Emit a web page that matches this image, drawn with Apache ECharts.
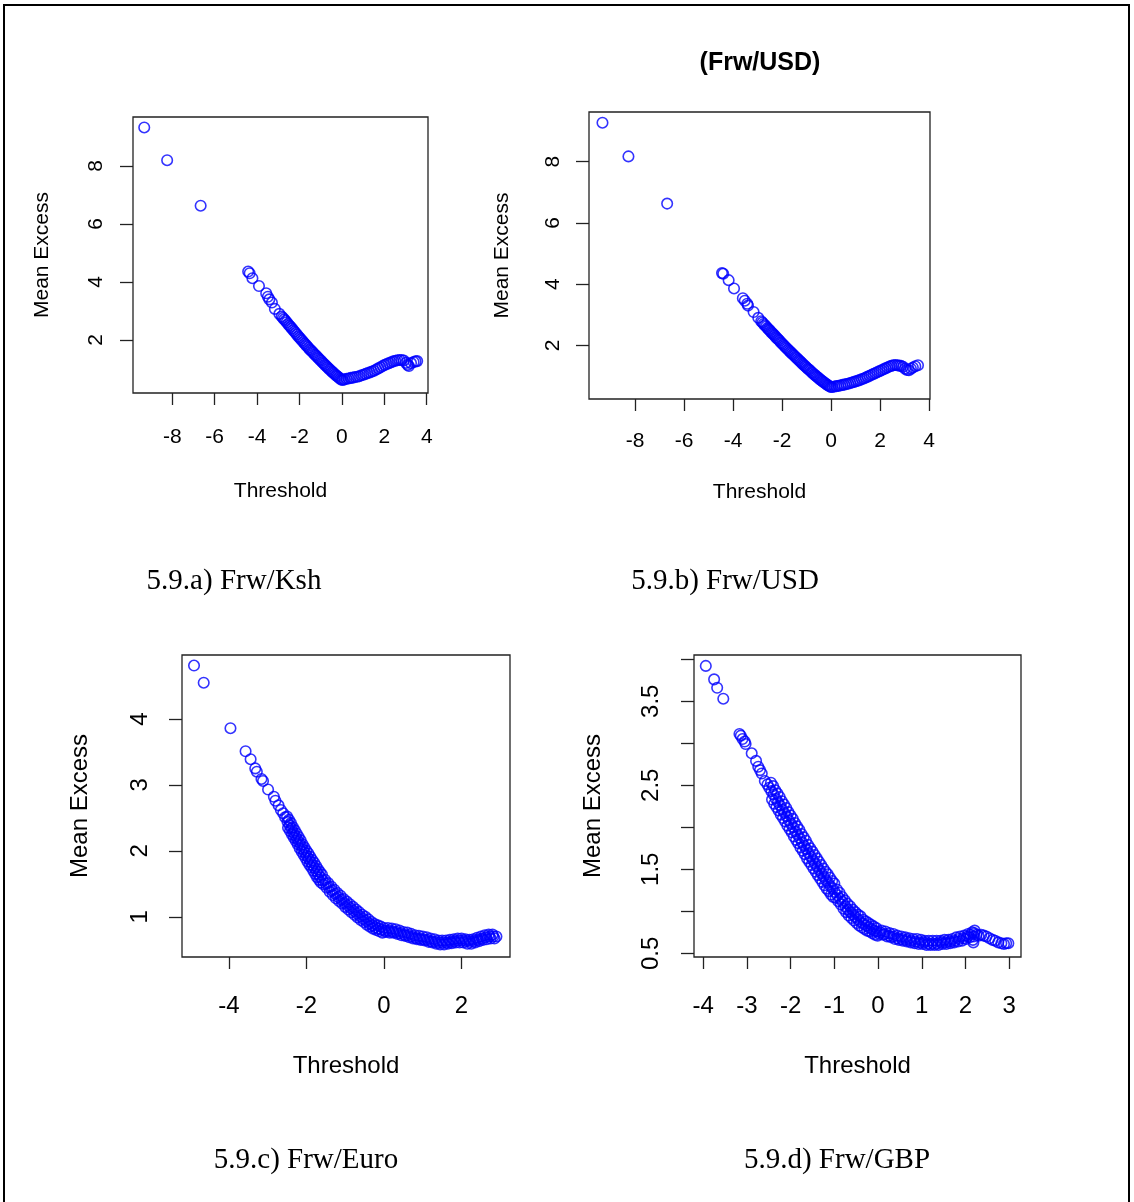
<!DOCTYPE html>
<html>
<head>
<meta charset="utf-8">
<title>Mean excess plots</title>
<script src="https://cdn.jsdelivr.net/npm/echarts@6/dist/echarts.min.js"></script>
<style>
  html, body { margin: 0; padding: 0; background: #fff; }
  #chart { width: 1134px; height: 1202px; }
</style>
</head>
<body>
<div id="chart"></div>
<script>
// [threshold, mean excess]
const frwKsh = [
  [-9.32, 9.33], [-8.24, 8.20], [-6.66, 6.63], [-4.42, 4.36], [-4.35, 4.30], [-4.22, 4.13], [-3.91, 3.86],
  [-3.57, 3.61], [-3.49, 3.49], [-3.42, 3.40], [-3.30, 3.29], [-3.16, 3.07], [-2.95, 2.90],
  [-2.84, 2.81], [-2.78, 2.76], [-2.72, 2.71], [-2.66, 2.66], [-2.60, 2.61], [-2.54, 2.55], [-2.48, 2.50],
  [-2.42, 2.45], [-2.36, 2.40], [-2.30, 2.34], [-2.24, 2.29], [-2.18, 2.24], [-2.12, 2.19], [-2.06, 2.13],
  [-2.00, 2.08], [-1.94, 2.03], [-1.88, 1.98], [-1.82, 1.93], [-1.76, 1.88], [-1.70, 1.83], [-1.64, 1.78],
  [-1.58, 1.73], [-1.52, 1.68], [-1.46, 1.64], [-1.40, 1.59], [-1.34, 1.55], [-1.28, 1.50], [-1.22, 1.46],
  [-1.16, 1.41], [-1.10, 1.37], [-1.04, 1.32], [-0.98, 1.28], [-0.92, 1.23], [-0.86, 1.19], [-0.80, 1.14],
  [-0.74, 1.10], [-0.68, 1.06], [-0.62, 1.01], [-0.56, 0.97], [-0.50, 0.93], [-0.44, 0.89], [-0.38, 0.85],
  [-0.32, 0.81], [-0.26, 0.77], [-0.20, 0.74], [-0.14, 0.70], [-0.08, 0.66], [-0.02, 0.63],
  [0.04, 0.62], [0.12, 0.64], [0.22, 0.66], [0.32, 0.67], [0.42, 0.69], [0.52, 0.70], [0.62, 0.72],
  [0.72, 0.73], [0.82, 0.75], [0.92, 0.78], [1.02, 0.80], [1.12, 0.83], [1.22, 0.86], [1.32, 0.88],
  [1.42, 0.91], [1.52, 0.94], [1.62, 0.98], [1.72, 1.02], [1.82, 1.06], [1.92, 1.10], [2.02, 1.14],
  [2.12, 1.17], [2.22, 1.20], [2.32, 1.23], [2.42, 1.26], [2.52, 1.28], [2.62, 1.30], [2.72, 1.31],
  [2.82, 1.31], [2.92, 1.29], [3.02, 1.21], [3.10, 1.14], [3.16, 1.10], [3.26, 1.20], [3.38, 1.24],
  [3.47, 1.26], [3.55, 1.27]
];

const frwUsd = [
  [-9.33, 9.27], [-8.27, 8.17], [-6.69, 6.63], [-4.45, 4.36], [-4.40, 4.34], [-4.18, 4.13], [-3.96, 3.86],
  [-3.60, 3.54], [-3.52, 3.46], [-3.42, 3.36], [-3.39, 3.30], [-3.16, 3.09], [-2.97, 2.90],
  [-2.85, 2.79], [-2.80, 2.75], [-2.75, 2.70], [-2.70, 2.66], [-2.65, 2.62], [-2.60, 2.57], [-2.55, 2.53],
  [-2.50, 2.49], [-2.45, 2.44], [-2.40, 2.40], [-2.35, 2.36], [-2.30, 2.32], [-2.25, 2.27], [-2.20, 2.23],
  [-2.15, 2.19], [-2.10, 2.15], [-2.05, 2.10], [-2.00, 2.06], [-1.95, 2.02], [-1.90, 1.98], [-1.85, 1.94],
  [-1.80, 1.90], [-1.75, 1.86], [-1.70, 1.82], [-1.65, 1.78], [-1.60, 1.74], [-1.55, 1.70], [-1.50, 1.66],
  [-1.45, 1.62], [-1.40, 1.59], [-1.35, 1.55], [-1.30, 1.51], [-1.25, 1.47], [-1.20, 1.43], [-1.15, 1.39],
  [-1.10, 1.35], [-1.05, 1.32], [-1.00, 1.28], [-0.95, 1.24], [-0.90, 1.21], [-0.85, 1.17], [-0.80, 1.13],
  [-0.75, 1.10], [-0.70, 1.06], [-0.65, 1.03], [-0.60, 0.99], [-0.55, 0.96], [-0.50, 0.93], [-0.45, 0.89],
  [-0.40, 0.86], [-0.35, 0.83], [-0.30, 0.80], [-0.25, 0.77], [-0.20, 0.74], [-0.15, 0.71], [-0.10, 0.69],
  [-0.05, 0.66], [0.00, 0.64],
  [0.06, 0.64], [0.14, 0.66], [0.22, 0.67], [0.30, 0.68], [0.38, 0.69], [0.46, 0.71], [0.54, 0.72],
  [0.62, 0.74], [0.70, 0.75], [0.78, 0.77], [0.86, 0.79], [0.94, 0.81], [1.02, 0.83], [1.10, 0.85],
  [1.18, 0.87], [1.26, 0.90], [1.34, 0.92], [1.42, 0.95], [1.50, 0.98], [1.58, 1.01], [1.66, 1.04],
  [1.74, 1.07], [1.82, 1.10], [1.90, 1.13], [1.98, 1.16], [2.06, 1.19], [2.14, 1.22], [2.22, 1.25],
  [2.30, 1.28], [2.38, 1.31], [2.46, 1.33], [2.54, 1.35], [2.62, 1.36], [2.70, 1.35], [2.78, 1.34],
  [2.86, 1.33], [2.94, 1.30], [3.02, 1.24], [3.10, 1.20], [3.18, 1.19], [3.26, 1.24], [3.34, 1.28],
  [3.44, 1.32], [3.55, 1.35]
];

// Frw/Euro: outer points of the band, then the middle of the band
const frwEuro = [
  [-4.90, 4.81], [-4.65, 4.55], [-3.96, 3.86], [-3.57, 3.51], [-3.44, 3.39], [-3.32, 3.25], [-3.28, 3.20],
  [-3.16, 3.09], [-3.12, 3.06], [-2.99, 2.93], [-2.84, 2.82], [-2.80, 2.76], [-2.72, 2.69], [-2.66, 2.62],
  [-2.60, 2.57], [-2.55, 2.51],
  [-2.500, 2.52], [-2.475, 2.35], [-2.450, 2.47], [-2.425, 2.30], [-2.400, 2.42], [-2.375, 2.25],
  [-2.350, 2.36], [-2.325, 2.20], [-2.300, 2.31], [-2.275, 2.15], [-2.250, 2.26], [-2.225, 2.10],
  [-2.200, 2.21], [-2.175, 2.04], [-2.150, 2.16], [-2.125, 1.99], [-2.100, 2.10], [-2.075, 1.94],
  [-2.050, 2.05], [-2.025, 1.89], [-2.000, 2.00], [-1.975, 1.84], [-1.950, 1.96], [-1.925, 1.79],
  [-1.900, 1.91], [-1.875, 1.75], [-1.850, 1.86], [-1.825, 1.70], [-1.800, 1.82], [-1.775, 1.65],
  [-1.750, 1.77], [-1.725, 1.60], [-1.700, 1.72], [-1.675, 1.56], [-1.650, 1.68], [-1.625, 1.52],
  [-1.600, 1.64],
  [-1.56, 1.49], [-1.52, 1.56], [-1.48, 1.44], [-1.44, 1.51], [-1.40, 1.38], [-1.36, 1.46], [-1.32, 1.33],
  [-1.28, 1.41], [-1.24, 1.28], [-1.20, 1.36], [-1.16, 1.24], [-1.12, 1.32], [-1.08, 1.20], [-1.04, 1.27],
  [-1.00, 1.15], [-0.96, 1.23], [-0.92, 1.11], [-0.88, 1.19], [-0.84, 1.07], [-0.80, 1.15], [-0.76, 1.03],
  [-0.72, 1.11], [-0.68, 0.99], [-0.64, 1.07], [-0.60, 0.95], [-0.56, 1.03], [-0.52, 0.92], [-0.48, 1.00],
  [-0.44, 0.88], [-0.40, 0.96], [-0.36, 0.85], [-0.32, 0.92], [-0.28, 0.82], [-0.24, 0.89], [-0.20, 0.80],
  [-0.16, 0.87], [-0.12, 0.78], [-0.08, 0.85], [-0.04, 0.76], [0.00, 0.83],
  [0.05, 0.77], [0.10, 0.83], [0.15, 0.76], [0.20, 0.82], [0.25, 0.76], [0.30, 0.81], [0.35, 0.74],
  [0.40, 0.79], [0.45, 0.72], [0.50, 0.77], [0.55, 0.71], [0.60, 0.76], [0.65, 0.69], [0.70, 0.74],
  [0.75, 0.67], [0.80, 0.72], [0.85, 0.66], [0.90, 0.71], [0.95, 0.65], [1.00, 0.70], [1.05, 0.64],
  [1.10, 0.69], [1.15, 0.62], [1.20, 0.67], [1.25, 0.61], [1.30, 0.66], [1.35, 0.59], [1.40, 0.64],
  [1.45, 0.58], [1.50, 0.64], [1.55, 0.58], [1.60, 0.64], [1.65, 0.59], [1.70, 0.65], [1.75, 0.60],
  [1.80, 0.66], [1.85, 0.61], [1.90, 0.67], [1.95, 0.61], [2.00, 0.67], [2.05, 0.61], [2.10, 0.66],
  [2.15, 0.59], [2.20, 0.65], [2.25, 0.59], [2.30, 0.66], [2.35, 0.61], [2.40, 0.68], [2.45, 0.63],
  [2.50, 0.70], [2.55, 0.65], [2.60, 0.72], [2.65, 0.66], [2.70, 0.73], [2.75, 0.67], [2.80, 0.73],
  [2.85, 0.67], [2.90, 0.70],
  [-2.49, 2.44], [-2.44, 2.39], [-2.39, 2.34], [-2.34, 2.28], [-2.29, 2.23], [-2.24, 2.18], [-2.19, 2.13],
  [-2.14, 2.08], [-2.09, 2.02], [-2.04, 1.97], [-1.99, 1.92], [-1.94, 1.88], [-1.89, 1.83], [-1.84, 1.78],
  [-1.79, 1.74], [-1.74, 1.69], [-1.69, 1.64], [-1.64, 1.60], [-1.58, 1.55], [-1.50, 1.50], [-1.42, 1.45],
  [-1.34, 1.40], [-1.26, 1.35], [-1.18, 1.30], [-1.10, 1.26], [-1.02, 1.21], [-0.94, 1.17], [-0.86, 1.13],
  [-0.78, 1.09], [-0.70, 1.05], [-0.62, 1.01], [-0.54, 0.97], [-0.46, 0.94], [-0.38, 0.90], [-0.30, 0.87],
  [-0.22, 0.84], [-0.14, 0.82], [-0.06, 0.80], [0.02, 0.79], [0.12, 0.79], [0.22, 0.78], [0.32, 0.77],
  [0.42, 0.75], [0.52, 0.73], [0.62, 0.72], [0.72, 0.70], [0.82, 0.68], [0.92, 0.67], [1.02, 0.66],
  [1.12, 0.65], [1.22, 0.63], [1.32, 0.62], [1.42, 0.61], [1.52, 0.61], [1.62, 0.61], [1.72, 0.62],
  [1.82, 0.63], [1.92, 0.64], [2.02, 0.64], [2.12, 0.63], [2.22, 0.62], [2.32, 0.63], [2.42, 0.65],
  [2.52, 0.67], [2.62, 0.69], [2.72, 0.70], [2.82, 0.70]
];

// Frw/GBP: outer points of the band, then the middle of the band
const frwGbp = [
  [-3.94, 3.92], [-3.75, 3.76], [-3.68, 3.66], [-3.54, 3.53], [-3.17, 3.11], [-3.14, 3.09], [-3.10, 3.05],
  [-3.05, 3.02], [-3.03, 2.99], [-2.89, 2.88], [-2.79, 2.79], [-2.74, 2.72], [-2.70, 2.68], [-2.66, 2.64],
  [-2.59, 2.55], [-2.53, 2.51], [-2.49, 2.47],
  [-2.450, 2.53], [-2.425, 2.33], [-2.400, 2.49], [-2.375, 2.28], [-2.350, 2.44], [-2.325, 2.24],
  [-2.300, 2.40], [-2.275, 2.20], [-2.250, 2.36], [-2.225, 2.15], [-2.200, 2.31], [-2.175, 2.11],
  [-2.150, 2.27], [-2.125, 2.07], [-2.100, 2.23], [-2.075, 2.02], [-2.050, 2.18], [-2.025, 1.98],
  [-2.000, 2.14], [-1.975, 1.94], [-1.950, 2.10], [-1.925, 1.89], [-1.900, 2.05], [-1.875, 1.85],
  [-1.850, 2.01], [-1.825, 1.81], [-1.800, 1.97], [-1.775, 1.76], [-1.750, 1.92], [-1.725, 1.72],
  [-1.700, 1.88], [-1.675, 1.68], [-1.650, 1.84], [-1.625, 1.63], [-1.600, 1.79], [-1.575, 1.59],
  [-1.550, 1.75], [-1.525, 1.55], [-1.500, 1.71], [-1.475, 1.51], [-1.450, 1.67], [-1.425, 1.47],
  [-1.400, 1.63], [-1.375, 1.43], [-1.350, 1.59], [-1.325, 1.39], [-1.300, 1.55], [-1.275, 1.35],
  [-1.250, 1.51], [-1.225, 1.31], [-1.200, 1.47], [-1.175, 1.27], [-1.150, 1.44], [-1.125, 1.24],
  [-1.100, 1.40], [-1.075, 1.20], [-1.050, 1.36], [-1.025, 1.17], [-1.000, 1.33],
  [-0.97, 1.16], [-0.94, 1.26], [-0.91, 1.12], [-0.88, 1.22], [-0.85, 1.08], [-0.82, 1.17], [-0.79, 1.03],
  [-0.76, 1.13], [-0.73, 0.99], [-0.70, 1.09], [-0.67, 0.95], [-0.64, 1.06], [-0.61, 0.92], [-0.58, 1.02],
  [-0.55, 0.89], [-0.52, 0.99], [-0.49, 0.86], [-0.46, 0.96], [-0.43, 0.83], [-0.40, 0.94], [-0.37, 0.81],
  [-0.34, 0.90], [-0.31, 0.79], [-0.28, 0.88], [-0.25, 0.77], [-0.22, 0.86], [-0.19, 0.76], [-0.16, 0.84],
  [-0.13, 0.74], [-0.10, 0.82], [-0.07, 0.72], [-0.04, 0.80], [-0.01, 0.71],
  [0.03, 0.73], [0.08, 0.77], [0.12, 0.72], [0.17, 0.76], [0.21, 0.70], [0.26, 0.74], [0.30, 0.69],
  [0.35, 0.73], [0.39, 0.67], [0.44, 0.71], [0.48, 0.66], [0.53, 0.70], [0.57, 0.65], [0.62, 0.69],
  [0.66, 0.64], [0.71, 0.68], [0.75, 0.63], [0.80, 0.67], [0.84, 0.62], [0.89, 0.67], [0.93, 0.61],
  [0.98, 0.66], [1.02, 0.61], [1.07, 0.65], [1.11, 0.60], [1.16, 0.65], [1.20, 0.60], [1.25, 0.65],
  [1.29, 0.60], [1.34, 0.65], [1.38, 0.60], [1.43, 0.65], [1.47, 0.61], [1.52, 0.66], [1.56, 0.61],
  [1.61, 0.66], [1.65, 0.62], [1.70, 0.67], [1.74, 0.63], [1.79, 0.69], [1.83, 0.64], [1.88, 0.70],
  [1.92, 0.65], [1.97, 0.71], [2.01, 0.67], [2.06, 0.73], [2.10, 0.69], [2.15, 0.75], [2.17, 0.66],
  [2.18, 0.63], [2.19, 0.70], [2.20, 0.74], [2.21, 0.77], [2.25, 0.72], [2.30, 0.71], [2.36, 0.72],
  [2.42, 0.71], [2.48, 0.70], [2.55, 0.68], [2.62, 0.66], [2.68, 0.65], [2.75, 0.63], [2.82, 0.62],
  [2.88, 0.61], [2.93, 0.62], [2.98, 0.62],
  [-2.44, 2.43], [-2.39, 2.39], [-2.34, 2.34], [-2.29, 2.30], [-2.24, 2.26], [-2.19, 2.21], [-2.14, 2.17],
  [-2.09, 2.13], [-2.04, 2.08], [-1.99, 2.04], [-1.94, 2.00], [-1.89, 1.95], [-1.84, 1.91], [-1.79, 1.87],
  [-1.74, 1.82], [-1.69, 1.78], [-1.64, 1.74], [-1.59, 1.69], [-1.54, 1.65], [-1.49, 1.61], [-1.44, 1.57],
  [-1.39, 1.53], [-1.34, 1.49], [-1.29, 1.45], [-1.24, 1.41], [-1.19, 1.37], [-1.14, 1.34], [-1.09, 1.30],
  [-1.04, 1.27], [-0.99, 1.23], [-0.93, 1.19], [-0.87, 1.15], [-0.81, 1.11], [-0.75, 1.06], [-0.69, 1.02],
  [-0.63, 0.99], [-0.57, 0.96], [-0.51, 0.93], [-0.45, 0.90], [-0.39, 0.87], [-0.33, 0.85], [-0.27, 0.83],
  [-0.21, 0.81], [-0.15, 0.79], [-0.09, 0.77], [-0.03, 0.76], [0.05, 0.75], [0.15, 0.73], [0.25, 0.71],
  [0.35, 0.70], [0.45, 0.68], [0.55, 0.67], [0.65, 0.66], [0.75, 0.65], [0.85, 0.64], [0.95, 0.63],
  [1.05, 0.63], [1.15, 0.62], [1.25, 0.62], [1.35, 0.62], [1.45, 0.63], [1.55, 0.63], [1.65, 0.64],
  [1.75, 0.65], [1.85, 0.67], [1.95, 0.68], [2.05, 0.70], [2.12, 0.72]
];

const kshXTicks = [-8, -6, -4, -2, 0, 2, 4];
const kshYTicks = [2, 4, 6, 8];
const usdXTicks = [-8, -6, -4, -2, 0, 2, 4];
const usdYTicks = [2, 4, 6, 8];
const euroXTicks = [-4, -2, 0, 2];
const euroYTicks = [1, 2, 3, 4];
const gbpXTicks = [-4, -3, -2, -1, 0, 1, 2, 3];
const gbpYTicks = [0.5, 1, 1.5, 2, 2.5, 3, 3.5, 4];
const gbpYLabels = [0.5, 1.5, 2.5, 3.5];

const captions = ['5.9.a) Frw/Ksh', '5.9.b) Frw/USD', '5.9.c) Frw/Euro', '5.9.d) Frw/GBP'];

const SANS = 'Liberation Sans, Arial, sans-serif';
const SERIF = 'Liberation Serif, Times New Roman, serif';
const INK = '#222';

const panels = [
  { data: frwKsh, grid: { left: 133, top: 117, width: 295, height: 276 }, x: [-9.85, 4.06], y: [0.17, 9.69],
    xTicks: kshXTicks, yTicks: kshYTicks, yLabels: kshYTicks, font: 21, xMargin: 34, yMargin: 26, xGap: 88, yGap: 80 },
  { data: frwUsd, grid: { left: 589, top: 112, width: 341, height: 287 }, x: [-9.88, 4.04], y: [0.25, 9.62],
    xTicks: usdXTicks, yTicks: usdYTicks, yLabels: usdYTicks, font: 21, xMargin: 32, yMargin: 25, xGap: 83, yGap: 76 },
  { data: frwEuro, grid: { left: 182, top: 655, width: 328, height: 302 }, x: [-5.21, 3.25], y: [0.39, 4.97],
    xTicks: euroXTicks, yTicks: euroYTicks, yLabels: euroYTicks, font: 24, xMargin: 37, yMargin: 30, xGap: 97, yGap: 90 },
  { data: frwGbp, grid: { left: 694, top: 655, width: 327, height: 302 }, x: [-4.21, 3.27], y: [0.456, 4.05],
    xTicks: gbpXTicks, yTicks: gbpYTicks, yLabels: gbpYLabels, font: 24, xMargin: 37, yMargin: 31, xGap: 97, yGap: 89 }
];

const chart = echarts.init(document.getElementById('chart'));

const tickStyle = { color: INK, width: 1.3 };

chart.setOption({
  animation: false,
  backgroundColor: '#fff',
  grid: panels.map((p) => ({ ...p.grid, show: true, borderColor: INK, borderWidth: 1.3, backgroundColor: 'transparent' })),
  xAxis: panels.map((p, i) => ({
    type: 'value', gridIndex: i, min: p.x[0], max: p.x[1], position: 'bottom',
    axisLine: { show: false, onZero: false },
    splitLine: { show: false },
    axisTick: { show: true, length: 12, lineStyle: tickStyle, customValues: p.xTicks },
    axisLabel: { customValues: p.xTicks, margin: p.xMargin, color: '#000', fontFamily: SANS, fontSize: p.font },
    name: 'Threshold', nameLocation: 'middle', nameGap: p.xGap,
    nameTextStyle: { color: '#000', fontFamily: SANS, fontSize: p.font }
  })),
  yAxis: panels.map((p, i) => ({
    type: 'value', gridIndex: i, min: p.y[0], max: p.y[1], position: 'left',
    axisLine: { show: false, onZero: false },
    splitLine: { show: false },
    axisTick: { show: true, length: 13, lineStyle: tickStyle, customValues: p.yTicks },
    axisLabel: { customValues: p.yLabels, rotate: 90, margin: p.yMargin, color: '#000', fontFamily: SANS, fontSize: p.font },
    name: 'Mean Excess', nameLocation: 'middle', nameGap: p.yGap,
    nameTextStyle: { color: '#000', fontFamily: SANS, fontSize: p.font }
  })),
  series: panels.map((p, i) => ({
    type: 'scatter', xAxisIndex: i, yAxisIndex: i, data: p.data,
    symbol: 'circle', symbolSize: 10.5,
    itemStyle: { color: 'rgba(0,0,0,0)', borderColor: '#0000ff', borderWidth: 1.6 },
    emphasis: { disabled: true }
  })),
  graphic: [
    { type: 'rect', shape: { x: 4, y: 5, width: 1125, height: 1220 }, style: { fill: 'none', stroke: '#000', lineWidth: 2 }, silent: true },
    { type: 'text', x: 760, y: 63, style: { text: '(Frw/USD)', font: 'bold 25px ' + SANS, fill: '#000', align: 'center', verticalAlign: 'middle' } },
    { type: 'text', x: 234, y: 581, style: { text: captions[0], font: '29px ' + SERIF, fill: '#000', align: 'center', verticalAlign: 'middle' } },
    { type: 'text', x: 725, y: 581, style: { text: captions[1], font: '29px ' + SERIF, fill: '#000', align: 'center', verticalAlign: 'middle' } },
    { type: 'text', x: 306, y: 1160, style: { text: captions[2], font: '29px ' + SERIF, fill: '#000', align: 'center', verticalAlign: 'middle' } },
    { type: 'text', x: 837, y: 1160, style: { text: captions[3], font: '29px ' + SERIF, fill: '#000', align: 'center', verticalAlign: 'middle' } }
  ]
});
</script>
</body>
</html>
